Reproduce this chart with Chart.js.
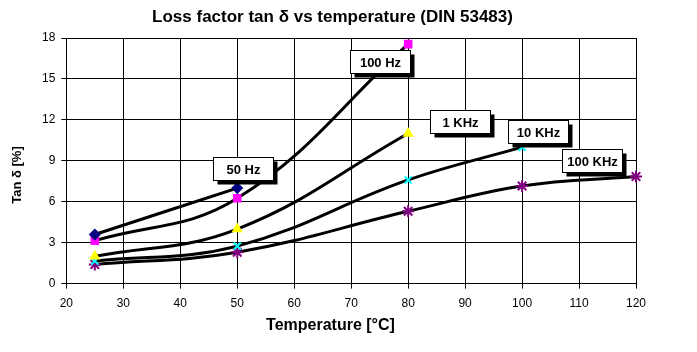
<!DOCTYPE html>
<html>
<head>
<meta charset="utf-8">
<script src="https://cdn.jsdelivr.net/npm/chart.js@4.4.1/dist/chart.umd.min.js"></script>
<style>
html,body{margin:0;padding:0;background:#fff;}
#wrap{width:697px;height:352px;}
</style>
</head>
<body>
<div id="wrap"><canvas id="c" width="697" height="352"></canvas></div>
<script>
const xTicks = [20,30,40,50,60,70,80,90,100,110,120];
const yTicks = [0,3,6,9,12,15,18];
const temps50Hz = [25, 50];
const tan50Hz = [3.6, 7.0];
const temps100Hz = [25, 50, 80];
const tan100Hz = [3.15, 6.25, 17.55];
const temps1kHz = [25, 50, 80];
const tan1kHz = [2.0, 4.0, 11.0];
const temps10kHz = [25, 50, 80, 100];
const tan10kHz = [1.65, 2.75, 7.6, 10.0];
const temps100kHz = [25, 50, 80, 100, 120];
const tan100kHz = [1.4, 2.3, 5.3, 7.15, 7.85];
const seriesNames = ['50 Hz','100 Hz','1 KHz','10 KHz','100 KHz'];
const chartTitle = 'Loss factor tan δ vs temperature (DIN 53483)';
const xTitle = 'Temperature [°C]';
const yTitle = 'Tan δ [%]';

const FONT = "'Liberation Sans', Arial, sans-serif";

function pts(xs, ys){ return xs.map((x,i)=>({x:x,y:ys[i]})); }

const labelBoxes = [
  {text: seriesNames[0], x: 51.0, y: 8.4},
  {text: seriesNames[1], x: 75.1, y: 16.3},
  {text: seriesNames[2], x: 89.1, y: 11.85},
  {text: seriesNames[3], x: 102.8, y: 11.15},
  {text: seriesNames[4], x: 112.3, y: 9.0}
];

const boxPlugin = {
  id: 'boxes',
  afterDatasetsDraw(chart){
    const ctx = chart.ctx;
    const xs = chart.scales.x, ys = chart.scales.y;
    ctx.save();
    ctx.font = "bold 13px " + FONT;
    ctx.textAlign = 'center';
    ctx.textBaseline = 'middle';
    labelBoxes.forEach(b=>{
      const cx = xs.getPixelForValue(b.x), cy = ys.getPixelForValue(b.y);
      const w = 60, h = 23;
      const l = Math.round(cx - w/2)+0.5, t = Math.round(cy - h/2)+0.5;
      ctx.fillStyle = '#000';
      ctx.fillRect(l+4, t+4, w, h);
      ctx.fillStyle = '#fff';
      ctx.fillRect(l, t, w, h);
      ctx.strokeStyle = '#000';
      ctx.lineWidth = 1;
      ctx.strokeRect(l, t, w, h);
      ctx.fillStyle = '#000';
      ctx.fillText(b.text, l + w/2, t + h/2 + 1);
    });
    ctx.restore();
  },
  afterDraw(chart){
    const ctx = chart.ctx;
    ctx.save();
    ctx.fillStyle = '#000';
    ctx.textAlign = 'center';
    ctx.textBaseline = 'middle';
    ctx.font = "bold 17px " + FONT;
    ctx.fillText(chartTitle, chart.width/2 - 16, 17);
    ctx.font = "bold 16px " + FONT;
    ctx.fillText(xTitle, chart.width/2 - 18, 326);
    ctx.translate(17, 175);
    ctx.rotate(-Math.PI/2);
    ctx.font = "bold 13px " + FONT;
    ctx.fillText(yTitle, 0, 0);
    ctx.restore();
  }
};

const common = {
  showLine: true,
  borderColor: '#000',
  borderWidth: 3,
  tension: 0.4,
  clip: false,
  pointBorderWidth: 1.5,
  pointHoverRadius: 5
};

new Chart(document.getElementById('c'), {
  type: 'scatter',
  data: {
    datasets: [
      Object.assign({}, common, {label: seriesNames[0], data: pts(temps50Hz, tan50Hz), pointStyle:'rectRot', pointRadius:5, pointBackgroundColor:'#000080', pointBorderColor:'#000080'}),
      Object.assign({}, common, {label: seriesNames[1], data: pts(temps100Hz, tan100Hz), pointStyle:'rect', pointRadius:5, pointBackgroundColor:'#ff00ff', pointBorderColor:'#ff00ff'}),
      Object.assign({}, common, {label: seriesNames[2], data: pts(temps1kHz, tan1kHz), pointStyle:'triangle', pointRadius:5, pointBackgroundColor:'#ffff00', pointBorderColor:'#ffff00'}),
      Object.assign({}, common, {label: seriesNames[3], data: pts(temps10kHz, tan10kHz), pointStyle:'crossRot', pointRadius:5, pointBackgroundColor:'#00ffff', pointBorderColor:'#00ffff', pointBorderWidth:2}),
      Object.assign({}, common, {label: seriesNames[4], data: pts(temps100kHz, tan100kHz), pointStyle:'star', pointRadius:6, pointBackgroundColor:'#800080', pointBorderColor:'#800080', pointBorderWidth:2})
    ]
  },
  options: {
    responsive: false,
    animation: false,
    layout: {padding: {left: 36, right: 61, top: 38, bottom: 33}},
    plugins: {
      legend: {display: false},
      tooltip: {enabled: false},
      title: {display: false}
    },
    scales: {
      x: {
        type: 'linear',
        min: xTicks[0], max: xTicks[xTicks.length-1],
        afterBuildTicks(axis){ axis.ticks = xTicks.map(v=>({value:v})); },
        ticks: {color:'#000', font:{family: FONT, size: 12}, padding: 8, maxRotation: 0},
        grid: {color:'#000', lineWidth:1, tickLength:5, drawTicks:true},
        border: {color:'#000', width:1},
        title: {display:false}
      },
      y: {
        type: 'linear',
        min: yTicks[0], max: yTicks[yTicks.length-1],
        afterBuildTicks(axis){ axis.ticks = yTicks.map(v=>({value:v})); },
        ticks: {color:'#000', font:{family: FONT, size: 12}, padding: 6},
        grid: {color:'#000', lineWidth:1, tickLength:5, drawTicks:true},
        border: {color:'#000', width:1},
        title: {display:false}
      }
    }
  },
  plugins: [boxPlugin]
});
</script>
</body>
</html>
